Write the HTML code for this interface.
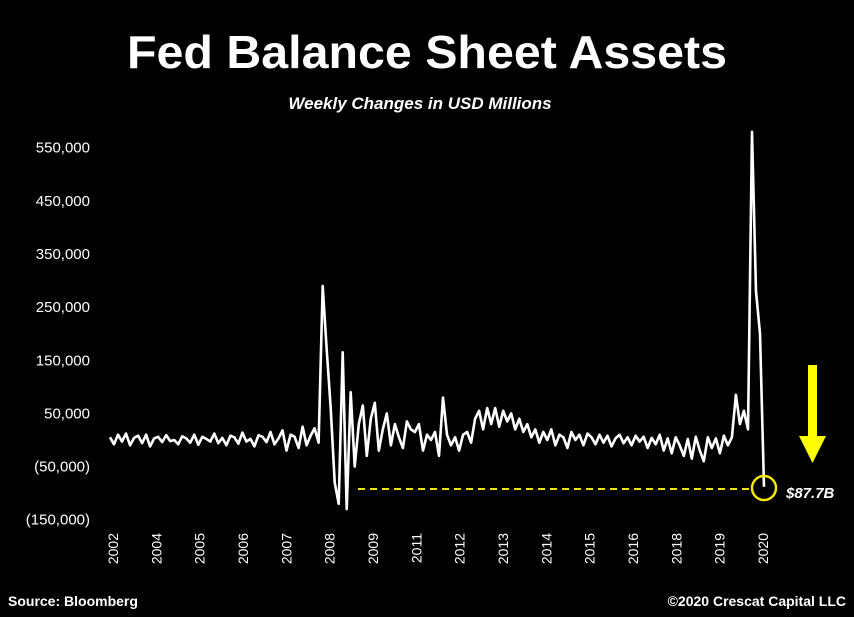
<!DOCTYPE html>
<html><head><meta charset="utf-8"><style>
html,body{margin:0;padding:0;background:#000;}
svg{display:block;font-family:"Liberation Sans",sans-serif;}
</style></head><body>
<svg id="chart" width="854" height="617" viewBox="0 0 854 617">
<rect width="854" height="617" fill="#000"/>
<text x="427" y="68" fill="#fff" font-size="46" font-weight="bold" text-anchor="middle" textLength="600" lengthAdjust="spacingAndGlyphs">Fed Balance Sheet Assets</text>
<text x="420" y="109" fill="#fff" font-size="17" font-weight="bold" font-style="italic" text-anchor="middle">Weekly Changes in USD Millions</text>
<g id="yaxis"></g>
<g id="xaxis"></g>
<g id="series"></g>
<line x1="358" y1="489" x2="751" y2="489" stroke="#f2e600" stroke-width="2" stroke-dasharray="7,5"/>
<circle cx="764" cy="488" r="12" fill="none" stroke="#f2e600" stroke-width="2.5"/>
<rect x="808" y="365" width="9" height="72" fill="#ffff00"/>
<polygon points="799,436 826,436 812.5,463" fill="#ffff00"/>
<text x="786" y="498" fill="#fff" font-size="15" font-weight="bold" font-style="italic">$87.7B</text>
<text x="8" y="606" fill="#fff" font-size="14" font-weight="bold">Source: Bloomberg</text>
<text x="846" y="606" fill="#fff" font-size="14" font-weight="bold" text-anchor="end">©2020 Crescat Capital LLC</text>
</svg>
<script>
const yTicks = [550, 450, 350, 250, 150, 50, -50, -150];
const yTickLabels = ["550,000","450,000","350,000","250,000","150,000","50,000","(50,000)","(150,000)"];
const xLabels = ["2002","2004","2005","2006","2007","2008","2009","2011","2012","2013","2014","2015","2016","2018","2019","2020"];
const weeklyChange = [5,-8,10,-3,12,-10,4,8,-6,10,-12,3,6,-4,9,-2,0,-8,7,3,-5,10,-9,6,2,-3,12,-6,4,-10,8,5,-7,14,-3,2,-12,9,6,-4,15,-8,3,18,-20,10,6,-15,25,-10,8,22,-5,
290,170,60,-80,-120,165,-130,90,-50,30,65,-30,40,70,-20,20,50,-10,30,5,-15,35,20,15,30,-20,10,0,15,-30,80,10,-10,5,-20,10,15,-5,40,55,20,60,30,60,25,55,35,50,20,40,15,30,5,20,-5,15,0,20,-10,10,5,-15,15,0,10,-10,12,
5,-8,10,-5,8,-12,3,10,-6,5,-10,8,-3,6,-15,4,-8,10,-20,3,-25,5,-10,-30,2,-35,6,-20,-40,5,-15,3,-25,8,-10,5,
85,30,55,20,580,280,200,-88];

const NS = "http://www.w3.org/2000/svg";
function yScale(v){ return 440 - v * (372/700); }
function xScale(i){ return 110 + i * (654 / (weeklyChange.length - 1)); }
function xLabelPos(i){ return 113 + i * ((763 - 113) / (xLabels.length - 1)); }

const ya = document.getElementById("yaxis");
yTicks.forEach((t, k) => {
  const tx = document.createElementNS(NS, "text");
  tx.setAttribute("x", 90);
  tx.setAttribute("y", yScale(t) + 5);
  tx.setAttribute("fill", "#fff");
  tx.setAttribute("font-size", "15");
  tx.setAttribute("text-anchor", "end");
  tx.textContent = yTickLabels[k];
  
  
  ya.appendChild(tx);
});

const xa = document.getElementById("xaxis");
xLabels.forEach((l, k) => {
  const x = xLabelPos(k);
  const tx = document.createElementNS(NS, "text");
  tx.setAttribute("transform", "translate(" + (x + 5) + ",533) rotate(-90)");
  tx.setAttribute("fill", "#fff");
  tx.setAttribute("font-size", "14");
  tx.setAttribute("text-anchor", "end");
  tx.textContent = l;
  
  
  xa.appendChild(tx);
});

const pts = weeklyChange.map((v, i) => xScale(i).toFixed(1) + "," + yScale(v).toFixed(1)).join(" ");
const pl = document.createElementNS(NS, "polyline");
pl.setAttribute("points", pts);
pl.setAttribute("fill", "none");
pl.setAttribute("stroke", "#fff");
pl.setAttribute("stroke-width", "2.6");
pl.setAttribute("stroke-linejoin", "round");


document.getElementById("series").appendChild(pl);
</script>
</body></html>
